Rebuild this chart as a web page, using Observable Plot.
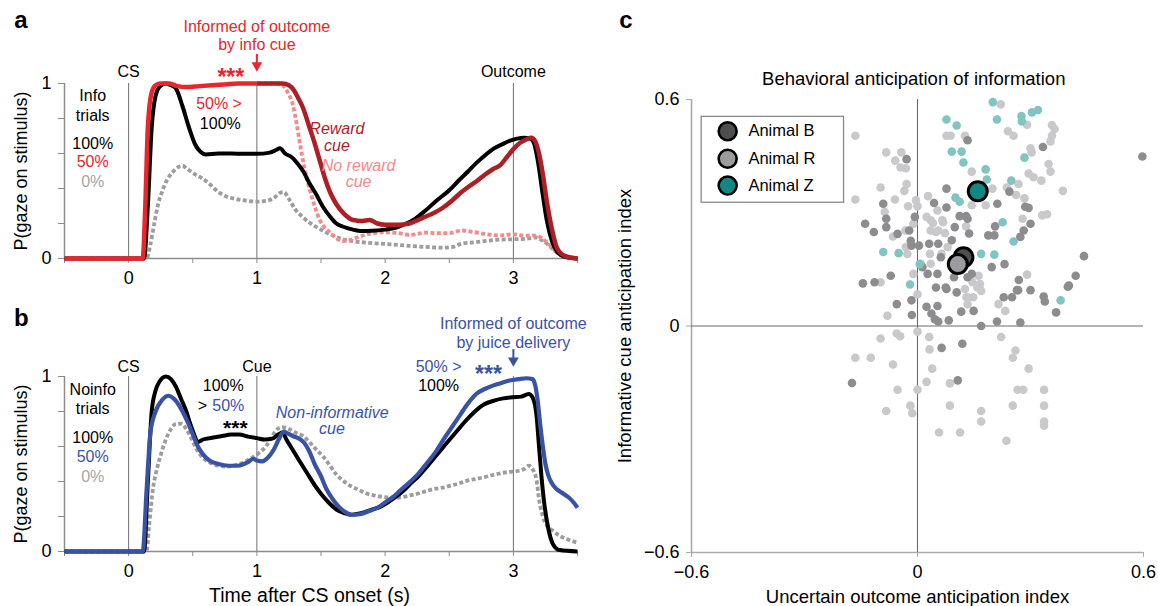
<!DOCTYPE html>
<html><head><meta charset="utf-8">
<script src="https://cdn.jsdelivr.net/npm/d3@7"></script>
<script src="https://cdn.jsdelivr.net/npm/@observablehq/plot@0.6"></script>
<style>
body{margin:0;background:#fff;}
#wrap{position:relative;width:1158px;height:606px;overflow:hidden;background:#fff;}
#wrap > div{position:absolute;}
</style></head>
<body>
<div id="wrap">
  <div id="pa" style="left:0;top:0;width:600px;height:300px"></div>
  <div id="pb" style="left:0;top:290px;width:600px;height:316px"></div>
  <div id="pc" style="left:590px;top:0;width:568px;height:606px"></div>
</div>
<script>
// ---------------- DATA ----------------
// Panel a: info trials, P(gaze on stimulus) vs time (s) as [t, p]
const infoP100 = [[-0.5,0],[0.12,0],[0.15,0.3],[0.18,0.75],[0.21,0.93],[0.24,0.98],[0.29,1.0],[0.33,0.99],[0.37,0.97],[0.42,0.87],[0.47,0.75],[0.52,0.65],[0.56,0.61],[0.6,0.595],[0.7,0.6],[0.8,0.6],[0.9,0.598],[1.0,0.598],[1.1,0.605],[1.15,0.62],[1.18,0.63],[1.22,0.6],[1.27,0.58],[1.32,0.54],[1.36,0.5],[1.41,0.43],[1.46,0.37],[1.52,0.29],[1.57,0.24],[1.62,0.2],[1.68,0.18],[1.75,0.165],[1.81,0.157],[1.9,0.158],[2.0,0.165],[2.08,0.175],[2.15,0.195],[2.22,0.22],[2.3,0.265],[2.4,0.33],[2.5,0.39],[2.58,0.45],[2.65,0.5],[2.71,0.545],[2.78,0.59],[2.84,0.625],[2.92,0.655],[2.97,0.672],[3.03,0.685],[3.08,0.69],[3.13,0.685],[3.16,0.66],[3.19,0.56],[3.23,0.36],[3.26,0.22],[3.3,0.1],[3.34,0.04],[3.4,0.01],[3.5,0]];
const infoP50 = [[-0.5,0],[0.11,0],[0.13,0.3],[0.15,0.75],[0.18,0.95],[0.21,0.99],[0.25,1.0],[0.32,1.0],[0.38,0.985],[0.45,0.98],[0.55,0.985],[0.65,0.99],[0.75,0.995],[0.85,1.0],[1.0,1.0]];
const infoP50Reward = [[1.0,1.0],[1.1,1.0],[1.2,1.0],[1.25,0.99],[1.29,0.96],[1.32,0.92],[1.36,0.86],[1.41,0.75],[1.45,0.66],[1.49,0.56],[1.53,0.46],[1.57,0.38],[1.62,0.31],[1.68,0.255],[1.75,0.22],[1.82,0.215],[1.88,0.22],[1.94,0.2],[2.0,0.193],[2.1,0.193],[2.19,0.2],[2.24,0.215],[2.3,0.235],[2.38,0.26],[2.45,0.29],[2.52,0.33],[2.58,0.37],[2.65,0.41],[2.71,0.44],[2.78,0.48],[2.84,0.51],[2.9,0.535],[2.95,0.58],[3.0,0.625],[3.05,0.66],[3.1,0.68],[3.14,0.69],[3.17,0.67],[3.2,0.6],[3.23,0.48],[3.26,0.33],[3.3,0.17],[3.34,0.06],[3.4,0.015],[3.5,0]];
const infoP50NoReward = [[1.0,1.0],[1.15,1.0],[1.2,0.99],[1.24,0.95],[1.28,0.88],[1.31,0.77],[1.34,0.64],[1.37,0.52],[1.41,0.4],[1.45,0.3],[1.49,0.22],[1.53,0.175],[1.57,0.15],[1.62,0.115],[1.67,0.1],[1.72,0.105],[1.8,0.125],[1.9,0.145],[2.0,0.15],[2.1,0.145],[2.19,0.135],[2.25,0.14],[2.32,0.148],[2.4,0.145],[2.5,0.145],[2.6,0.16],[2.7,0.15],[2.8,0.138],[2.9,0.132],[3.0,0.138],[3.08,0.13],[3.15,0.132],[3.2,0.125],[3.25,0.1],[3.3,0.065],[3.36,0.025],[3.42,0.008],[3.5,0]];
const infoP0 = [[-0.5,0],[0.14,0],[0.17,0.08],[0.2,0.2],[0.23,0.31],[0.26,0.38],[0.3,0.45],[0.34,0.49],[0.38,0.52],[0.42,0.53],[0.46,0.51],[0.52,0.48],[0.58,0.455],[0.64,0.42],[0.7,0.38],[0.76,0.355],[0.84,0.34],[0.92,0.33],[1.0,0.325],[1.08,0.33],[1.14,0.35],[1.18,0.375],[1.21,0.38],[1.25,0.34],[1.3,0.28],[1.36,0.235],[1.42,0.2],[1.5,0.165],[1.58,0.135],[1.67,0.11],[1.76,0.098],[1.86,0.09],[1.96,0.085],[2.06,0.08],[2.19,0.072],[2.32,0.066],[2.45,0.062],[2.52,0.065],[2.6,0.085],[2.7,0.093],[2.8,0.102],[2.9,0.108],[3.0,0.11],[3.1,0.113],[3.18,0.12],[3.22,0.105],[3.27,0.08],[3.32,0.045],[3.38,0.015],[3.5,0]];

// Panel b: noinfo trials
const noinfoP100 = [[-0.5,0],[0.12,0],[0.15,0.4],[0.18,0.8],[0.21,0.92],[0.24,0.97],[0.29,1.0],[0.33,0.985],[0.37,0.94],[0.41,0.87],[0.45,0.8],[0.48,0.73],[0.51,0.67],[0.54,0.625],[0.58,0.64],[0.65,0.65],[0.73,0.66],[0.8,0.668],[0.86,0.668],[0.94,0.655],[1.0,0.648],[1.06,0.64],[1.12,0.645],[1.17,0.67],[1.2,0.68],[1.23,0.64],[1.28,0.58],[1.33,0.52],[1.39,0.45],[1.45,0.38],[1.5,0.33],[1.56,0.28],[1.62,0.24],[1.68,0.22],[1.73,0.21],[1.78,0.215],[1.84,0.225],[1.9,0.24],[1.96,0.255],[2.02,0.28],[2.08,0.31],[2.14,0.345],[2.2,0.39],[2.26,0.43],[2.32,0.48],[2.4,0.55],[2.48,0.62],[2.55,0.68],[2.62,0.74],[2.7,0.8],[2.77,0.84],[2.84,0.86],[2.92,0.875],[3.0,0.882],[3.06,0.885],[3.12,0.9],[3.15,0.88],[3.18,0.78],[3.2,0.6],[3.22,0.42],[3.24,0.28],[3.27,0.14],[3.31,0.04],[3.36,0.008],[3.5,0]];
const noinfoP50 = [[-0.5,0],[0.11,0],[0.14,0.35],[0.17,0.68],[0.21,0.8],[0.26,0.865],[0.31,0.89],[0.35,0.875],[0.38,0.85],[0.42,0.8],[0.46,0.74],[0.5,0.67],[0.54,0.6],[0.58,0.555],[0.63,0.52],[0.7,0.5],[0.78,0.49],[0.85,0.49],[0.9,0.5],[0.94,0.515],[0.97,0.53],[1.0,0.52],[1.04,0.515],[1.09,0.54],[1.13,0.58],[1.17,0.64],[1.21,0.685],[1.24,0.675],[1.28,0.66],[1.33,0.645],[1.37,0.62],[1.41,0.57],[1.45,0.5],[1.5,0.43],[1.54,0.36],[1.59,0.3],[1.64,0.255],[1.69,0.225],[1.74,0.21],[1.8,0.213],[1.87,0.23],[1.94,0.25],[2.0,0.28],[2.06,0.31],[2.12,0.35],[2.19,0.395],[2.26,0.445],[2.32,0.5],[2.39,0.565],[2.45,0.634],[2.52,0.71],[2.58,0.775],[2.64,0.84],[2.71,0.9],[2.78,0.93],[2.84,0.948],[2.9,0.962],[2.97,0.977],[3.04,0.985],[3.1,0.99],[3.15,0.985],[3.17,0.95],[3.19,0.86],[3.21,0.72],[3.23,0.6],[3.25,0.5],[3.27,0.44],[3.3,0.39],[3.34,0.355],[3.39,0.33],[3.43,0.31],[3.47,0.28],[3.5,0.25]];
const noinfoP0 = [[-0.5,0],[0.14,0],[0.16,0.15],[0.19,0.36],[0.22,0.47],[0.25,0.55],[0.29,0.64],[0.33,0.7],[0.37,0.73],[0.41,0.73],[0.45,0.7],[0.49,0.645],[0.53,0.585],[0.58,0.535],[0.63,0.51],[0.7,0.49],[0.77,0.485],[0.84,0.495],[0.9,0.51],[0.96,0.535],[1.02,0.565],[1.07,0.6],[1.12,0.66],[1.16,0.7],[1.2,0.71],[1.25,0.7],[1.3,0.68],[1.36,0.66],[1.41,0.625],[1.46,0.585],[1.52,0.54],[1.57,0.49],[1.62,0.44],[1.68,0.4],[1.73,0.375],[1.8,0.35],[1.86,0.33],[1.93,0.318],[2.0,0.31],[2.06,0.308],[2.12,0.31],[2.19,0.32],[2.25,0.33],[2.32,0.345],[2.38,0.357],[2.45,0.365],[2.51,0.376],[2.58,0.39],[2.64,0.405],[2.71,0.415],[2.77,0.424],[2.84,0.437],[2.9,0.447],[2.97,0.455],[3.03,0.46],[3.08,0.47],[3.12,0.49],[3.15,0.47],[3.18,0.41],[3.2,0.3],[3.23,0.2],[3.26,0.15],[3.31,0.118],[3.36,0.09],[3.42,0.07],[3.5,0.05]];

// Event markers and ticks
const eventTimesA = [0, 1, 3];
const eventTimesB = [0, 1, 3];
const timeTicks = [-0.5, 0, 0.5, 1, 1.5, 2, 2.5, 3, 3.5];
const probTicks = [0, 0.2, 0.4, 0.6, 0.8, 1];
const indexTicks = [-0.6, 0, 0.6];

// Panel c: sessions as [uncertain outcome index, informative cue index]
const animalZ = [[0.200,0.593],[0.077,0.547],[0.104,0.531],[0.211,0.547],[0.276,0.556],[0.277,0.542],[0.304,0.566],[0.320,0.572],[0.091,0.462],[0.117,0.462],[0.122,0.433],[0.284,0.446],[0.181,0.415],[0.184,0.388],[0.249,0.385],[0.101,0.340],[0.112,0.329],[0.226,0.275],[0.255,0.224],[-0.091,0.196],[-0.050,0.193],[0.006,0.164],[0.169,0.191],[0.204,0.189],[0.380,0.068],[-0.020,0.110]];
const animalR = [[0.221,0.587],[0.291,0.533],[0.357,0.532],[0.364,0.522],[0.240,0.516],[0.255,0.504],[0.357,0.504],[0.353,0.489],[0.077,0.504],[0.088,0.504],[0.126,0.504],[-0.165,0.504],[0.300,0.471],[0.303,0.460],[-0.083,0.460],[-0.059,0.438],[-0.043,0.460],[-0.045,0.420],[-0.031,0.418],[0.348,0.429],[0.353,0.409],[0.295,0.404],[0.308,0.394],[0.329,0.385],[0.144,0.409],[0.199,0.364],[0.237,0.367],[0.268,0.376],[0.262,0.347],[0.284,0.338],[0.386,0.358],[-0.029,0.376],[-0.035,0.358],[-0.098,0.367],[-0.165,0.335],[-0.060,0.335],[-0.087,0.302],[-0.025,0.317],[0.028,0.344],[0.144,0.320],[0.181,0.320],[-0.004,0.333],[0.0,0.317],[-0.065,0.237],[-0.032,0.253],[-0.011,0.271],[0.024,0.289],[0.041,0.273],[0.055,0.253],[0.068,0.275],[0.073,0.246],[0.129,0.264],[0.279,0.284],[0.331,0.293],[0.344,0.296],[-0.027,0.191],[0.033,0.191],[0.064,0.191],[0.162,0.133],[0.291,0.136],[-0.098,0.116],[-0.011,0.138],[-0.080,0.027],[0.0,0.084],[0.126,0.098],[0.130,0.076],[0.148,0.076],[0.133,0.058],[0.166,0.111],[0.169,0.093],[0.215,0.058],[0.233,0.040],[0.035,0.253],[0.049,0.249],[-0.031,0.209],[0.146,0.116],[0.159,0.102],[0.133,0.076],[0.066,0.280],[0.053,0.306],[0.035,0.280],[0.080,0.209],[0.035,0.165],[0.009,0.165],[-0.098,-0.033],[-0.055,-0.020],[-0.046,-0.027],[0.0,-0.015],[0.031,-0.029],[0.032,-0.062],[0.222,-0.029],[-0.165,-0.084],[-0.124,-0.084],[-0.065,-0.102],[0.039,-0.113],[0.260,-0.065],[0.253,-0.084],[0.295,-0.113],[-0.053,-0.169],[0.0,-0.169],[0.024,-0.148],[0.086,-0.152],[0.266,-0.169],[0.281,-0.169],[0.336,-0.169],[-0.083,-0.225],[-0.019,-0.211],[-0.014,-0.231],[0.086,-0.211],[0.169,-0.225],[0.253,-0.211],[0.336,-0.211],[0.169,-0.253],[0.336,-0.253],[0.336,-0.264],[0.057,-0.282],[0.113,-0.282],[0.236,-0.304]];
const animalB = [[0.133,0.492],[0.333,0.474],[0.597,0.449],[-0.029,0.442],[0.244,0.356],[0.286,0.316],[0.295,0.313],[0.077,0.364],[0.044,0.326],[0.077,0.314],[0.212,0.324],[-0.091,0.324],[-0.139,0.271],[-0.116,0.249],[-0.083,0.262],[-0.083,0.284],[-0.007,0.289],[0.099,0.262],[0.112,0.291],[0.129,0.291],[0.137,0.245],[0.188,0.240],[0.204,0.240],[0.206,0.264],[0.273,0.236],[0.282,0.253],[0.300,0.271],[-0.016,0.213],[0.004,0.213],[0.055,0.218],[0.091,0.227],[0.231,0.164],[0.197,0.156],[0.144,0.138],[0.442,0.185],[0.420,0.133],[0.402,0.107],[0.269,0.122],[0.300,0.095],[0.264,0.095],[-0.145,0.113],[-0.114,0.116],[-0.071,0.133],[-0.055,0.058],[-0.016,0.068],[-0.015,0.029],[0.024,0.051],[0.037,0.033],[0.053,0.053],[0.046,0.018],[0.055,0.012],[0.083,0.015],[0.077,0.098],[0.104,0.089],[0.116,0.038],[0.149,0.040],[0.229,0.076],[0.251,0.076],[0.267,0.095],[0.211,0.012],[0.169,0.0],[0.273,0.009],[0.335,0.078],[0.338,0.065],[0.368,0.036],[0.399,0.104],[0.031,0.218],[0.013,0.156],[0.027,0.138],[0.053,0.138],[0.049,0.102],[0.075,0.102],[0.097,0.129],[0.133,0.129],[-0.022,0.253],[-0.018,0.226],[-0.053,0.244],[0.133,0.284],[0.062,0.182],[0.064,-0.058],[0.119,-0.047],[-0.174,-0.151],[0.107,-0.144]];
const meanB = [0.122, 0.182];
const meanR = [0.107, 0.164];
const meanZ = [0.160, 0.357];
const legendNames = ["Animal B", "Animal R", "Animal Z"];

// ---------------- STYLE ----------------
const FONT = '"Liberation Sans", Arial, Helvetica, sans-serif';
const AX = "#8c8c8c";
const RED = "#e8262c", DARKRED = "#ae1e25", PINK = "#f48a8a", GRAY = "#9d9d9d", BLUE = "#3953a4";
const baseStyle = {background: "transparent", overflow: "visible", fontFamily: FONT, color: "#000"};
const NOTE = 16;

const note = (txt, x, y, o = {}) => Plot.text([[x, y]], {text: [txt], fontSize: NOTE, fill: "#000", ...o});
const curve = (pairs, o) => Plot.line(pairs, {curve: "monotone-x", strokeLinejoin: "round", strokeLinecap: "butt", ...o});
const dashed = {strokeDasharray: "4,2.4", strokeWidth: 3.8};

function timeAxes(eventTimes) {
  return [
    Plot.ruleX(eventTimes, {y1: 0, y2: 1, stroke: "#6f6f6f", strokeWidth: 1}),
    Plot.ruleY([0], {x1: -0.5, x2: 3.5, stroke: AX, strokeWidth: 1.5}),
    Plot.ruleX([-0.5], {y1: 0, y2: 1, stroke: AX, strokeWidth: 1.5}),
    Plot.axisX({ticks: timeTicks, tickFormat: d => Number.isInteger(d) ? String(d) : "", tickSize: 5, tickPadding: 8, stroke: AX, label: null, fontSize: 18}),
    Plot.axisY({ticks: probTicks, tickFormat: d => (d === 0 || d === 1) ? String(d) : "", tickSize: 6, tickPadding: 7, stroke: AX, label: null, fontSize: 18})
  ];
}

// ---------------- PANEL A ----------------
const pa = Plot.plot({
  width: 600, height: 300,
  marginLeft: 64, marginRight: 23, marginTop: 83, marginBottom: 42,
  x: {domain: [-0.5, 3.5]}, y: {domain: [0, 1]},
  style: baseStyle,
  marks: [
    ...timeAxes(eventTimesA),
    curve(infoP0, {stroke: GRAY, ...dashed}),
    curve(infoP50NoReward, {stroke: PINK, ...dashed}),
    curve(infoP100, {stroke: "#000", strokeWidth: 4}),
    curve(infoP50Reward, {stroke: DARKRED, strokeWidth: 4.5}),
    curve(infoP50, {stroke: RED, strokeWidth: 4.5}),
    note("a", -0.84, 1.36, {fontSize: 24, fontWeight: "bold"}),
    note("P(gaze on stimulus)", -0.84, 0.5, {rotate: -90, fontSize: 18}),
    note("Informed of outcome", 1.0, 1.326, {fill: RED}),
    note("by info cue", 1.0, 1.223, {fill: RED}),
    Plot.ruleX([1], {y1: 1.166, y2: 1.11, stroke: RED, strokeWidth: 2}),
    Plot.dot([[1, 1.103]], {symbol: "triangle", r: 4, rotate: 180, fill: RED, stroke: "none"}),
    note("***", 0.797, 1.034, {fill: RED, fontSize: 23, fontWeight: "bold"}),
    note("CS", 0, 1.069),
    note("Outcome", 3, 1.069),
    note("Info", -0.28, 0.931),
    note("trials", -0.28, 0.817),
    note("100%", -0.28, 0.655),
    note("50%", -0.28, 0.55, {fill: RED}),
    note("0%", -0.28, 0.44, {fill: "#a5a5a5"}),
    note("50% >", 0.705, 0.884, {fill: RED}),
    note("100%", 0.715, 0.77),
    note("Reward", 1.624, 0.738, {fill: DARKRED, fontStyle: "italic"}),
    note("cue", 1.624, 0.646, {fill: DARKRED, fontStyle: "italic"}),
    note("No reward", 1.793, 0.531, {fill: PINK, fontStyle: "italic"}),
    note("cue", 1.793, 0.44, {fill: PINK, fontStyle: "italic"})
  ]
});
document.getElementById("pa").appendChild(pa);

// ---------------- PANEL B ----------------
const pb = Plot.plot({
  width: 600, height: 316,
  marginLeft: 64, marginRight: 23, marginTop: 86, marginBottom: 55,
  x: {domain: [-0.5, 3.5]}, y: {domain: [0, 1]},
  style: baseStyle,
  marks: [
    ...timeAxes(eventTimesB),
    curve(noinfoP0, {stroke: GRAY, ...dashed}),
    curve(noinfoP100, {stroke: "#000", strokeWidth: 4}),
    curve(noinfoP50, {stroke: BLUE, strokeWidth: 4.2}),
    note("b", -0.836, 1.331, {fontSize: 24, fontWeight: "bold"}),
    note("P(gaze on stimulus)", -0.84, 0.5, {rotate: -90, fontSize: 18}),
    note("Time after CS onset (s)", 1.41, -0.251, {fontSize: 19.5}),
    note("Informed of outcome", 3.0, 1.303, {fill: BLUE}),
    note("by juice delivery", 3.0, 1.19, {fill: BLUE}),
    Plot.ruleX([3], {y1: 1.154, y2: 1.1, stroke: BLUE, strokeWidth: 2}),
    Plot.dot([[3, 1.091]], {symbol: "triangle", r: 4, rotate: 180, fill: BLUE, stroke: "none"}),
    note("50% >", 2.417, 1.053, {fill: BLUE}),
    note("***", 2.806, 1.011, {fill: BLUE, fontSize: 23, fontWeight: "bold"}),
    note("100%", 2.417, 0.949),
    note("CS", 0, 1.057),
    note("Cue", 1, 1.057),
    note("Noinfo", -0.28, 0.926),
    note("trials", -0.28, 0.817),
    note("100%", -0.28, 0.651),
    note("50%", -0.28, 0.543, {fill: BLUE}),
    note("0%", -0.28, 0.429, {fill: "#a5a5a5"}),
    note("100%", 0.738, 0.949),
    note(">", 0.575, 0.832),
    note("50%", 0.777, 0.832, {fill: BLUE}),
    note("***", 0.832, 0.703, {fontSize: 21, fontWeight: "bold"}),
    note("Non-informative", 1.588, 0.795, {fill: BLUE, fontStyle: "italic"}),
    note("cue", 1.585, 0.701, {fill: BLUE, fontStyle: "italic"})
  ]
});
document.getElementById("pb").appendChild(pb);

// ---------------- PANEL C ----------------
const fmtIdx = d => d === 0 ? "0" : (d < 0 ? "\u2212" : "") + Math.abs(d).toFixed(1);
const legendY = [0.516, 0.443, 0.372];
const legendFill = ["#4e4e50", "#9c9c9e", "#138883"];
const pc = Plot.plot({
  width: 568, height: 606,
  marginLeft: 101, marginRight: 15, marginTop: 99, marginBottom: 54,
  x: {domain: [-0.6, 0.6]}, y: {domain: [-0.6, 0.6]},
  style: baseStyle,
  marks: [
    Plot.ruleX([-0.6], {stroke: "#aaa", strokeWidth: 1.6}),
    Plot.ruleY([-0.6], {stroke: "#aaa", strokeWidth: 1.6}),
    Plot.ruleX([0], {stroke: "#6a6a6a", strokeWidth: 1.1}),
    Plot.ruleY([0], {stroke: "#6a6a6a", strokeWidth: 1.1}),
    Plot.axisX({ticks: indexTicks, tickFormat: fmtIdx, tickSize: 5, tickPadding: 8, stroke: "#aaa", label: null, fontSize: 18}),
    Plot.axisY({ticks: indexTicks, tickFormat: fmtIdx, tickSize: 5, tickPadding: 7, stroke: "#aaa", label: null, fontSize: 18}),
    Plot.dot(animalR, {r: 4.3, fill: "#c9c9cb"}),
    Plot.dot(animalB, {r: 4.3, fill: "#8d8d8f"}),
    Plot.dot(animalZ, {r: 4.3, fill: "#80c5c1"}),
    Plot.dot([meanB], {r: 9.5, fill: legendFill[0], stroke: "#000", strokeWidth: 3}),
    Plot.dot([meanR], {r: 9.5, fill: legendFill[1], stroke: "#000", strokeWidth: 3}),
    Plot.dot([meanZ], {r: 9.5, fill: legendFill[2], stroke: "#000", strokeWidth: 3}),
    // legend
    Plot.rect([[-0.573, -0.195, 0.3265, 0.554]], {x1: d => d[0], x2: d => d[1], y1: d => d[2], y2: d => d[3], fill: "white", stroke: "#8a8a8a", strokeWidth: 1.3}),
    Plot.dot(legendNames, {x: () => -0.504, y: (d, i) => legendY[i], r: 9, fill: (d, i) => legendFill[i], stroke: "#000", strokeWidth: 2.6}),
    Plot.text(legendNames, {x: () => -0.449, y: (d, i) => legendY[i], text: d => d, textAnchor: "start", fontSize: 16.5, fill: "#000"}),
    note("c", -0.774, 0.81, {fontSize: 24, fontWeight: "bold"}),
    note("Behavioral anticipation of information", -0.01, 0.654, {fontSize: 18.5}),
    note("Informative cue anticipation index", -0.777, 0, {rotate: -90, fontSize: 18.5}),
    note("Uncertain outcome anticipation index", 0, -0.719, {fontSize: 18.5})
  ]
});
document.getElementById("pc").appendChild(pc);
</script>
</body></html>
